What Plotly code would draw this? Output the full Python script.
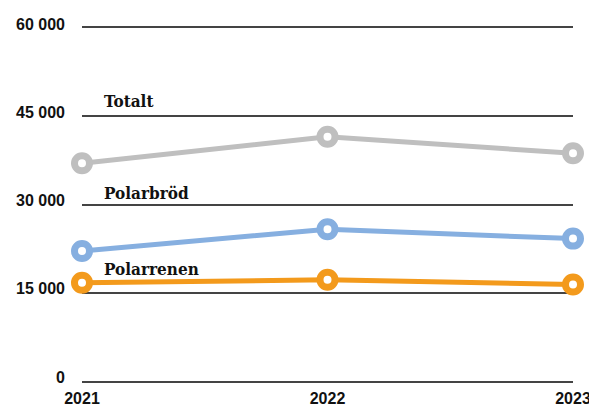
import plotly.graph_objects as go

years = [2021, 2022, 2023]
totalt = [37000, 41500, 38700]
polarbrod = [22100, 25800, 24200]
polarrenen = [16700, 17200, 16400]
y_ticks = [0, 15000, 30000, 45000, 60000]

series = [
    ("Totalt", totalt, "#bfbfbf", 47600),
    ("Polarbröd", polarbrod, "#86afe0", 32000),
    ("Polarrenen", polarrenen, "#f39a1c", 19100),
]

fig = go.Figure()
for name, vals, col, _ in series:
    fig.add_trace(go.Scatter(
        x=years, y=vals, mode="lines+markers", name=name,
        line=dict(color=col, width=5),
        marker=dict(size=15, color="white", line=dict(color=col, width=7)),
        cliponaxis=False, showlegend=False,
    ))

for name, vals, col, ly in series:
    fig.add_annotation(
        x=0.04, xref="paper", y=ly, yref="y", text="<b>%s</b>" % name,
        showarrow=False, xanchor="left", yanchor="middle",
        font=dict(family="DejaVu Serif Condensed, DejaVu Serif", size=17, color="#111"),
    )

# the page body has an 8px margin, so the figure is sized to fit the window
fig.update_layout(
    width=589, height=401,
    margin=dict(l=74, r=24, t=20, b=28),
    paper_bgcolor="white", plot_bgcolor="white",
    separators=", ",
    font=dict(family="Liberation Sans, Arial", size=16, color="#111"),
)
fig.update_xaxes(
    range=[2021, 2023], tickvals=years, ticktext=[f"<b>{y}</b>" for y in years],
    showgrid=False, zeroline=False, showline=True, mirror=True,
    linecolor="#444", linewidth=1.5, ticks="",
    ticklabelstandoff=2, automargin=False,
)
fig.update_yaxes(
    range=[0, 60000], tickvals=y_ticks,
    ticktext=[f"<b>{v:,}</b>".replace(",", " ") for v in y_ticks],
    showgrid=True, gridcolor="#444", gridwidth=1.5,
    zeroline=False, showline=False, ticks="",
    ticklabelstandoff=16, ticklabelshift=-4, automargin=False,
)

fig.write_html("out.html")
